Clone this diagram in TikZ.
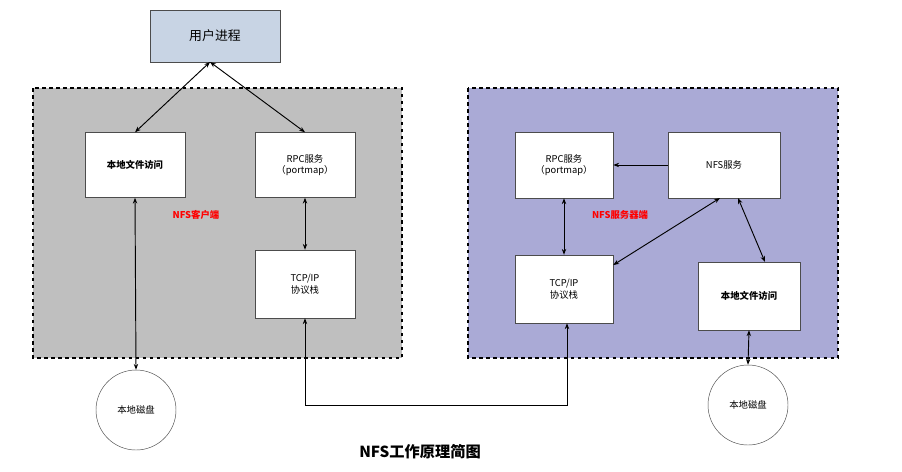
\documentclass[tikz,border=0pt]{standalone}
\usepackage{fontspec}
\setmainfont{Liberation Serif}
\newfontfamily\cjk{Noto Sans CJK SC}
\usetikzlibrary{arrows.meta}
\begin{document}
\begin{tikzpicture}[x=0.03cm,y=-0.03cm,
  box/.style={draw=black!70,fill=white,font=\cjk\fontsize{8}{10}\selectfont,align=center,inner sep=0pt},
  region/.style={draw=black,dashed,line width=1.2pt},
  disk/.style={draw=black!70,circle,minimum size=2.4cm,font=\cjk\fontsize{8}{10}\selectfont},
  link/.style={-{Stealth[length=5pt]},line width=0.8pt},
  dlink/.style={{Stealth[length=5pt]}-{Stealth[length=5pt]},line width=0.8pt},
  lbl/.style={text=red,font=\cjk\bfseries\fontsize{8}{10}\selectfont}]
\useasboundingbox (0,0) rectangle (902,471);
\fill[white] (0,0) rectangle (902,471);
\draw[region,fill=black!25] (33,88) rectangle (402,358);
\draw[region,fill={rgb,255:red,170;green,170;blue,214}] (468,88) rectangle (838,358);
\node[box,fill={rgb,255:red,200;green,212;blue,228},minimum width=3.9cm,minimum height=1.56cm,font=\cjk\fontsize{11}{13}\selectfont] (user) at (215,36) {用户进程};
\node[box,minimum width=3cm,minimum height=1.95cm,font=\cjk\bfseries\fontsize{8}{10}\selectfont] (lfa) at (135,165) {本地文件访问};
\node[box,minimum width=3cm,minimum height=1.95cm] (rpcl) at (305,165) {RPC服务\\（portmap）};
\node[box,minimum width=3cm,minimum height=2.04cm] (tcpl) at (305,284) {TCP/IP\\协议栈};
\node[disk] (diskl) at (136,410) {本地磁盘};
\node[lbl] (nfsc) at (196,215) {NFS客户端};
\node[box,minimum width=2.94cm,minimum height=1.98cm] (rpcr) at (564,165) {RPC服务\\（portmap）};
\node[box,minimum width=3.36cm,minimum height=1.98cm] (nfss) at (724,165) {NFS服务};
\node[box,minimum width=2.94cm,minimum height=2.04cm] (tcpr) at (564,289) {TCP/IP\\协议栈};
\node[box,minimum width=3.06cm,minimum height=2.04cm,font=\cjk\bfseries\fontsize{8}{10}\selectfont] (lfar) at (749,296) {本地文件访问};
\node[disk] (diskr) at (748,405) {本地磁盘};
\node[lbl] (nfssv) at (620,215) {NFS服务器端};
\node[font=\cjk\bfseries\fontsize{13}{15}\selectfont] (title) at (420,452) {NFS工作原理简图};
\coordinate (u0) at (210,62);
\draw[dlink] (u0) -- (lfa.north);
\draw[dlink] (u0) -- (rpcl.north);
\draw[dlink] (lfa.south) -- (diskl.north);
\draw[dlink] (rpcl.south) -- (tcpl.north);
\draw[dlink] (tcpl.south) -- (305,405) -- (567,405) -- (tcpr.south -| 567,0);
\draw[link] (nfss.west) -- (rpcr.east);
\draw[dlink] (rpcr.south) -- (tcpr.north);
\draw[dlink] (tcpr.east |- 0,265) -- (720,198);
\draw[dlink] (738,198) -- (765,262);
\draw[dlink] (lfar.south) -- (diskr.north);
\end{tikzpicture}
\end{document}
